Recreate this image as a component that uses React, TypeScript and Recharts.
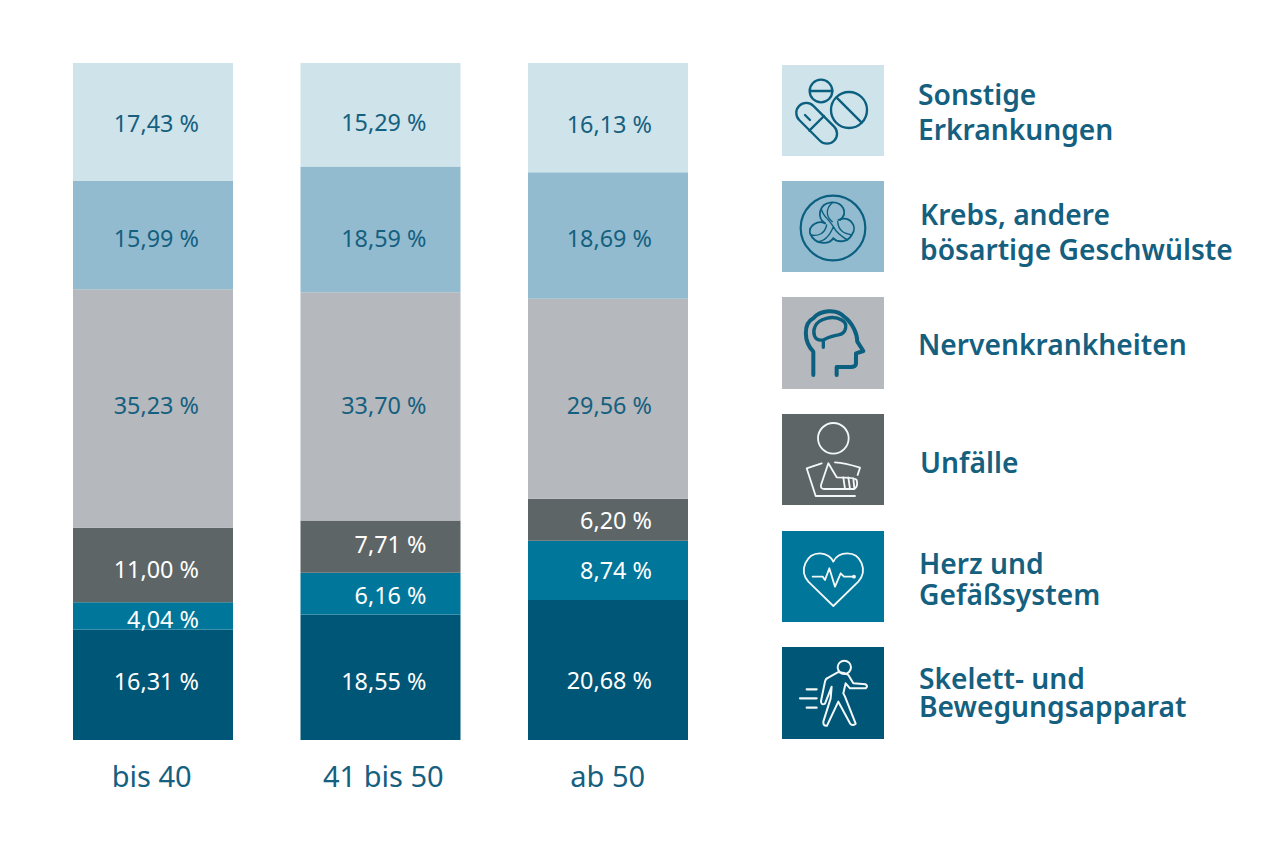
import React from "react";
import { BarChart, Bar, XAxis, YAxis, LabelList } from "recharts";

const categories = ["bis 40", "41 bis 50", "ab 50"];
const skelett = [16.31, 18.55, 20.68];
const herz = [4.04, 6.16, 8.74];
const unfaelle = [11.0, 7.71, 6.2];
const nerven = [35.23, 33.7, 29.56];
const krebs = [15.99, 18.59, 18.69];
const sonstige = [17.43, 15.29, 16.13];

const rows = categories.map((name, i) => ({
  name,
  skelett: skelett[i],
  herz: herz[i],
  unfaelle: unfaelle[i],
  nerven: nerven[i],
  krebs: krebs[i],
  sonstige: sonstige[i],
}));

const FONT = "'Noto Sans', sans-serif";
const BLUE = "#15607f";

const labelInset = [34, 34, 36];
const tickShift = [-1, 3, 0];

const series = [
  { key: "skelett", fill: "#005676", text: "#ffffff", nudge: [-4, 4, 10] },
  { key: "herz", fill: "#00769a", text: "#ffffff", nudge: [3, 1, 0] },
  { key: "unfaelle", fill: "#5e6566", text: "#ffffff", nudge: [4, -3, 0] },
  { key: "nerven", fill: "#b5b8bd", text: BLUE, nudge: [-4, -1, 6] },
  { key: "krebs", fill: "#92bbd0", text: BLUE, nudge: [3, 9, 3] },
  { key: "sonstige", fill: "#cfe3ea", text: BLUE, nudge: [1, 7, 6] },
];

const legendRows = [
  { y: 65, h: 91, fill: "#cfe3ea", x: 918, lines: ["Sonstige", "Erkrankungen"], ys: [94, 129] },
  { y: 181, h: 91, fill: "#92bbd0", x: 920, lines: ["Krebs, andere", "bösartige Geschwülste"], ys: [214, 249] },
  { y: 297, h: 92, fill: "#b5b8bd", x: 918, lines: ["Nervenkrankheiten"], ys: [344] },
  { y: 414, h: 91, fill: "#5e6566", x: 920, lines: ["Unfälle"], ys: [462] },
  { y: 531, h: 91, fill: "#00769a", x: 919, lines: ["Herz und", "Gefäßsystem"], ys: [563, 594] },
  { y: 647, h: 92, fill: "#005676", x: 919, lines: ["Skelett- und", "Bewegungsapparat"], ys: [678, 706] },
];

const makeLabel = (text: string, nudge: number[]) => (props: any) => {
  const { x, y, width, height, value, index } = props;
  return (
    <text
      x={x + width - labelInset[index]}
      y={y + height / 2 + nudge[index]}
      textAnchor="end"
      dominantBaseline="central"
      fill={text}
      fontFamily={FONT}
      fontSize={23.4}
    >
      {Number(value).toFixed(2).replace(".", ",")} %
    </text>
  );
};

const CategoryTick = (props: any) => {
  const { x, y, payload, index } = props;
  return (
    <text
      x={x + tickShift[index]}
      y={y + 27}
      textAnchor="middle"
      dominantBaseline="central"
      fill={BLUE}
      fontFamily={FONT}
      fontSize={29}
    >
      {payload.value}
    </text>
  );
};

const Icons = () => (
  <g fill="none" strokeLinecap="round" strokeLinejoin="round">
    <g transform="translate(770,55) scale(0.3333)" stroke="#0b5f7f" strokeWidth={7}>
      <circle cx={153} cy={108} r={34} />
      <path d="M120 108H187" />
      <circle cx={237} cy={165} r={54} />
      <path d="M200 128L275 203" />
      <rect x={66} y={175} width={148} height={60} rx={30} transform="rotate(45 140 205)" />
      <path d="M118 227L162 183M105 180L120 195" />
      <path
        d="M130 960L130 890C100 860 100 805 130 790C150 765 200 760 222 785C250 805 262 840 262 860L280 888L258 895L258 925C258 940 240 936 200 936L200 960"
        strokeWidth={12}
      />
      <path
        d="M160 877L160 855C130 860 128 830 135 815C145 790 190 780 215 795C235 805 230 835 205 840C190 842 170 850 160 855"
        strokeWidth={10}
      />
    </g>
    <g transform="translate(795,190) scale(0.3333)" stroke="#0b5f7f" strokeWidth={6.5}>
      <circle cx={114} cy={114} r={97} />
      <path d="M90 100C65 85 70 40 110 37C145 35 160 70 135 90" strokeWidth={5.5} />
      <path d="M130 90C165 75 190 110 170 135C160 155 130 160 115 145" strokeWidth={5.5} />
      <path d="M115 145C100 165 60 165 45 130C40 105 70 90 90 100" strokeWidth={5.5} />
      <path
        d="M112 38C92 55 92 80 112 95M80 60C85 80 100 85 115 110M170 135C150 130 130 125 128 95M158 150C140 140 125 130 115 110M48 135C70 140 90 130 95 105M65 155C90 155 105 135 115 110"
        strokeWidth={4}
      />
    </g>
    <g transform="translate(795,420) scale(0.3333)" stroke="#f4f7f8" strokeWidth={5.5}>
      <circle cx={115} cy={55} r={46} />
      <path d="M80 130L35 145L62 228L180 228M120 127C145 128 170 135 195 143L188 165" />
      <path d="M100 130L78 195Q76 207 88 207L178 207Q190 200 185 180Q180 172 125 172L100 130Z" />
      <path d="M145 172L150 207M160 172L165 207M175 175L178 205" />
    </g>
    <g transform="translate(770,405) scale(0.3333)" stroke="#f4f7f8" strokeWidth={5.5}>
      <path d="M190 603L115 530C85 495 110 445 150 445C170 445 185 458 190 470C197 455 212 445 232 445C272 445 295 495 265 530Z" />
      <path d="M128 515L158 515L165 525L178 490L195 545L212 505L222 515L250 515" />
      <circle cx={252} cy={515} r={3} fill="#f4f7f8" />
    </g>
    <g transform="translate(795,655) scale(0.3333)" stroke="#f4f7f8" strokeWidth={6}>
      <circle cx={148} cy={37} r={20} />
      <path d="M128 52L100 68Q92 70 90 80L78 138Q78 152 90 146L110 95L107 130L85 200Q84 214 96 212L130 140L165 205Q172 215 182 206L150 125L145 115L152 85L165 100L212 100Q220 94 212 88L175 85L160 60Q145 50 128 52Z" />
      <path d="M35 103H65M15 130H65M35 158H65" strokeWidth={6.5} />
    </g>
  </g>
);

const LegendPanel = () => (
  <svg width={1280} height={854} style={{ position: "absolute", left: 0, top: 0, pointerEvents: "none" }}>
    {legendRows.map((r) => (
      <g key={r.y}>
        <rect x={782} y={r.y} width={102} height={r.h} fill={r.fill} />
        {r.lines.map((line, i) => (
          <text
            key={line}
            x={r.x}
            y={r.ys[i]}
            dominantBaseline="central"
            fill={BLUE}
            fontFamily={FONT}
            fontWeight={600}
            fontSize={28.2}
          >
            {line}
          </text>
        ))}
      </g>
    ))}
    <Icons />
  </svg>
);

export default function App() {
  return (
    <div style={{ position: "absolute", left: 0, top: 0, width: 1280, height: 854, background: "#fff" }}>
      <BarChart
        width={1280}
        height={854}
        data={rows}
        barCategoryGap={0}
        margin={{ top: 63, right: 558.5, bottom: 64, left: 39 }}
      >
        <XAxis dataKey="name" height={50} axisLine={false} tickLine={false} interval={0} tick={<CategoryTick />} />
        <YAxis hide domain={[0, 100]} />
        {series.map((s) => (
          <Bar key={s.key} dataKey={s.key} stackId="a" fill={s.fill} barSize={160} isAnimationActive={false}>
            <LabelList dataKey={s.key} content={makeLabel(s.text, s.nudge)} />
          </Bar>
        ))}
      </BarChart>
      <LegendPanel />
    </div>
  );
}
